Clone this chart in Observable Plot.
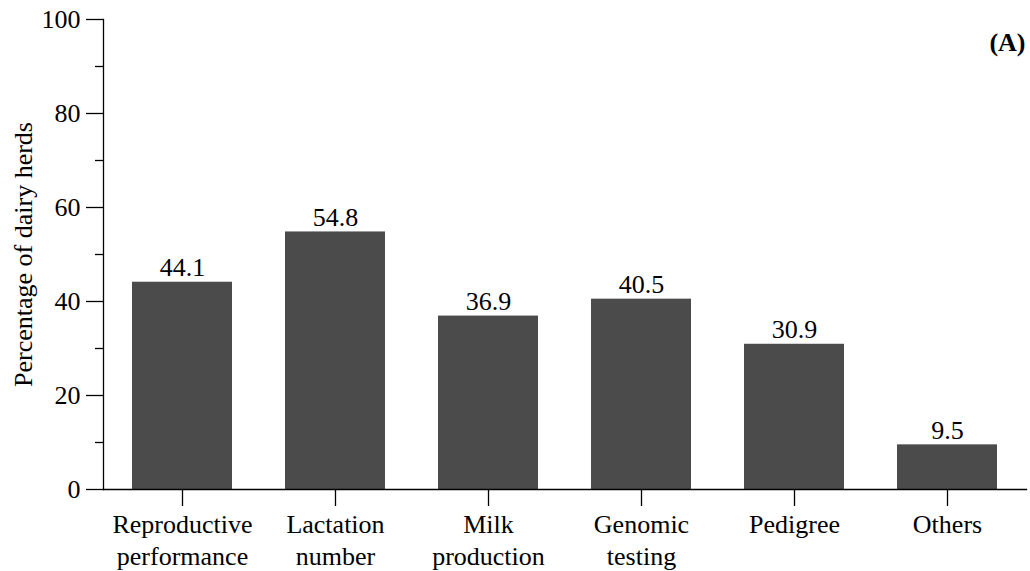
<!DOCTYPE html>
<html>
<head>
<meta charset="utf-8">
<script src="https://cdn.jsdelivr.net/npm/d3@7"></script>
<script src="https://cdn.jsdelivr.net/npm/@observablehq/plot@0.6"></script>
<style>
  html, body { margin: 0; padding: 0; background: #fff; }
  #chart svg { display: block; }
  #chart svg text, #chart svg tspan { font-family: "Liberation Serif", "Times New Roman", serif !important; }
</style>
</head>
<body>
<div id="chart"></div>
<script>
const categories = ["Reproductive\nperformance", "Lactation\nnumber", "Milk\nproduction", "Genomic\ntesting", "Pedigree", "Others"];
const values = [44.1, 54.8, 36.9, 40.5, 30.9, 9.5];
const majorTicks = [0, 20, 40, 60, 80, 100];
const minorTicks = [10, 30, 50, 70, 90];
const yLabel = "Percentage of dairy herds";
const panelLabel = "(A)";

const font = "Liberation Serif";
const data = categories.map((c, i) => ({category: c, value: values[i]}));

const chart = Plot.plot({
  width: 1030,
  height: 571,
  marginTop: 19,
  marginBottom: 82,
  marginLeft: 103,
  marginRight: 4,
  style: {fontFamily: "'Liberation Serif', 'Times New Roman', serif", fontSize: "26px", background: "#fff", color: "#000"},
  x: {domain: categories, paddingInner: 0.349, paddingOuter: 0.182, label: null},
  y: {domain: [0, 100], label: null},
  marks: [
    Plot.barY(data, {x: "category", y: "value", fill: "#4b4b4b"}),
    Plot.text(data, {x: "category", y: "value", text: d => d.value.toFixed(1), lineAnchor: "bottom", dy: -6, fontSize: 26, fontFamily: font, fill: "#000"}),
    Plot.frame({anchor: "left", stroke: "#000", strokeWidth: 1.3}),
    Plot.frame({anchor: "bottom", stroke: "#000", strokeWidth: 1.3}),
    Plot.axisY({ticks: majorTicks, tickSize: 17, tickPadding: 6, fontSize: 26, fontFamily: font, fontVariant: "normal", strokeWidth: 1.3, label: null}),
    Plot.axisY({ticks: minorTicks, tickSize: 8, text: null, strokeWidth: 1.3, label: null}),
    Plot.axisX({tickSize: 17, tickPadding: 4, fontSize: 26, fontFamily: font, lineHeight: 1.23, strokeWidth: 1.3, label: null}),
    Plot.text([yLabel], {text: d => d, frameAnchor: "left", rotate: -90, textAnchor: "middle", lineAnchor: "bottom", dx: -72, fontSize: 26, fontFamily: font, fill: "#000"}),
    Plot.text([panelLabel], {text: d => d, frameAnchor: "top-right", textAnchor: "end", lineAnchor: "bottom", dx: -1, dy: 31, fontSize: 26, fontFamily: font, fontWeight: "bold", fill: "#000"})
  ]
});
document.getElementById("chart").appendChild(chart);
</script>
</body>
</html>
